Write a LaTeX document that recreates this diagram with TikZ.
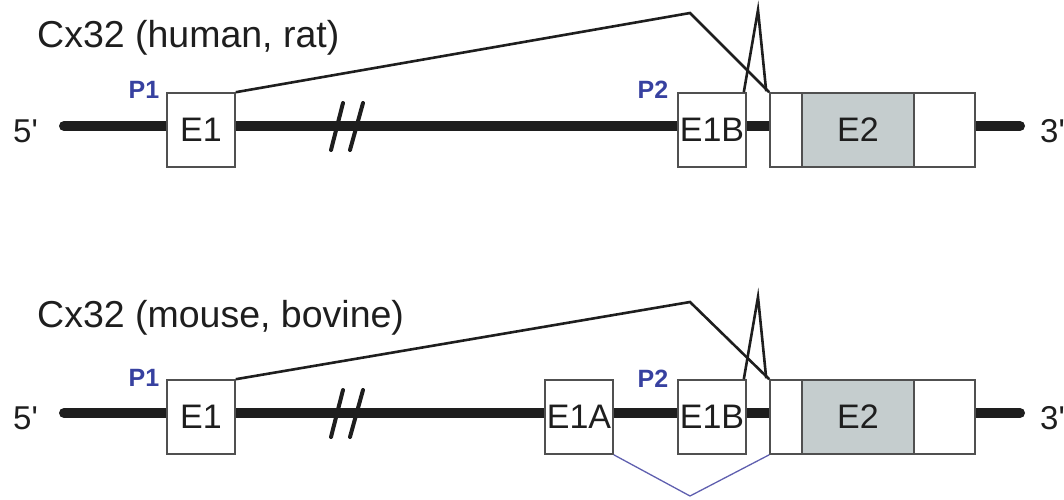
\documentclass[tikz,border=0pt]{standalone}
\usepackage{fontspec}
\setmainfont{Liberation Sans}
\usetikzlibrary{calc}
\definecolor{ink}{RGB}{30,30,30}
\definecolor{boxline}{RGB}{80,80,80}
\definecolor{cds}{RGB}{197,205,206}
\definecolor{prom}{RGB}{55,65,160}
\definecolor{altsplice}{RGB}{95,95,175}
\begin{document}
\begin{tikzpicture}[x=1pt,y=-1pt,
  dna/.style={line width=10pt, line cap=round, ink},
  breakmark/.style={line width=4pt, line cap=round, ink},
  exon/.style={draw=boxline, line width=1.6pt, fill=white, minimum width=68pt,
    minimum height=74pt, inner sep=0pt, text=ink, font=\fontsize{34}{40}\selectfont},
  coding/.style={exon, fill=cds},
  title/.style={anchor=base west, inner sep=0pt, text=ink, font=\fontsize{37.5}{44}\selectfont},
  endlabel/.style={anchor=base west, inner sep=0pt, text=ink, font=\fontsize{33}{40}\selectfont},
  promoter/.style={inner sep=0pt, text=prom, font=\fontsize{25}{30}\selectfont\bfseries},
  splice/.style={line width=2.6pt, ink, line join=miter},
  altpath/.style={line width=1.3pt, altsplice}]
\useasboundingbox (0,0) rectangle (1064,499);

% ---------- Cx32 (human, rat) ----------
\node[title] (ttitle) at (37,47) {Cx32 (human, rat)};
\node[endlabel] (t5) at (13,142) {5\textquotesingle};
\node[endlabel] (t3) at (1040,142) {3\textquotesingle};
\coordinate (tstart) at (64,126);
\coordinate (tend) at (1020,126);
\draw[dna] (tstart) -- (tend);
\draw[breakmark] (331,150) -- (343,103);
\draw[breakmark] (350,150) -- (363,103);
\node[exon] (tE1) at (201,130) {E1};
\node[exon] (tE1B) at (712,130) {E1B};
\node[exon, minimum width=32pt] (tE2a) at (786,130) {};
\node[coding, minimum width=112pt] (tE2) at (858,130) {E2};
\node[exon, minimum width=61pt] (tE2c) at (944.5,130) {};
\node[promoter] (tP1) at (144,90) {P1};
\node[promoter] (tP2) at (653,90) {P2};
\coordinate (tpk1) at (690,13);
\coordinate (tpk2) at (758,10);
\draw[splice] (tE1.north east) -- (tpk1) -- (tE2a.north west);
\draw[splice] ($(tE1B.north east)+(-3,0)$) -- (tpk2) -- ($(tE2a.north west)+(-3,-1)$);

% ---------- Cx32 (mouse, bovine) ----------
\node[title] (btitle) at (37,327) {Cx32 (mouse, bovine)};
\node[endlabel] (b5) at (13,429) {5\textquotesingle};
\node[endlabel] (b3) at (1040,429) {3\textquotesingle};
\coordinate (bstart) at (64,413);
\coordinate (bend) at (1020,413);
\draw[dna] (bstart) -- (bend);
\draw[breakmark] (331,437) -- (343,390);
\draw[breakmark] (350,437) -- (363,390);
\node[exon] (bE1) at (201,417) {E1};
\node[exon] (bE1A) at (579,417) {E1A};
\node[exon] (bE1B) at (712,417) {E1B};
\node[exon, minimum width=32pt] (bE2a) at (786,417) {};
\node[coding, minimum width=112pt] (bE2) at (858,417) {E2};
\node[exon, minimum width=61pt] (bE2c) at (944.5,417) {};
\node[promoter] (bP1) at (144,378) {P1};
\node[promoter] (bP2) at (653,379) {P2};
\coordinate (bpk1) at (690,302);
\coordinate (bpk2) at (758,297);
\coordinate (bvee) at (690,496);
\draw[splice] (bE1.north east) -- (bpk1) -- (bE2a.north west);
\draw[splice] ($(bE1B.north east)+(-3,0)$) -- (bpk2) -- ($(bE2a.north west)+(-3,-1)$);
\draw[altpath] (bE1A.south east) -- (bvee) -- (bE2a.south west);
\end{tikzpicture}
\end{document}
